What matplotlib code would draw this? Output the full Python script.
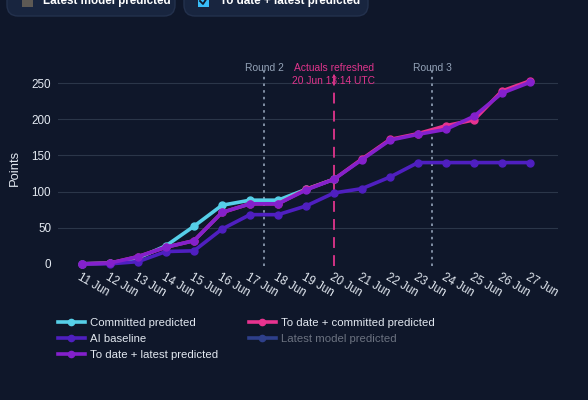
import numpy as np
import matplotlib
matplotlib.use('Agg')
import matplotlib.pyplot as plt
from matplotlib.lines import Line2D
from matplotlib.patches import FancyBboxPatch, Rectangle
from matplotlib.transforms import IdentityTransform

plt.rcParams['font.family'] = ['Liberation Sans', 'DejaVu Sans']

# datos
dates = ['11 Jun', '12 Jun', '13 Jun', '14 Jun', '15 Jun', '16 Jun', '17 Jun', '18 Jun',
         '19 Jun', '20 Jun', '21 Jun', '22 Jun', '23 Jun', '24 Jun', '25 Jun', '26 Jun', '27 Jun']
committed = [0, 1, 8, 25, 52, 81, 88, 88, 103, 117] + [np.nan] * 7
ai_baseline = [0, 0, 3, 17, 18, 48, 68, 68, 80, 98, 104, 120, 140, 140, 140, 140, 140]
todate_latest = [0, 1, 10, 23, 32, 71, 83, 83, 102, 117, 144, 171, 179, 186, 204, 236, 251]
todate_committed = [0, 1, 10, 23, 32, 71, 83, 83, 103, 117, 145, 172, 180, 191, 199, 239, 253]
round_marks = [(6.5, 'Round 2'), (12.5, 'Round 3')]
refresh_idx = 9
refresh_label = 'Actuals refreshed\n20 Jun 13:14 UTC'

BG = '#0f172a'
C_COMMITTED = '#56cfe8'
C_BASELINE = '#4f1fc0'
C_LATEST = '#8420cc'
C_TD_COMMITTED = '#e8338f'
C_HIDDEN = '#2e3f8a'
TXT = '#e2e8f0'

W, H = 588, 400
fig = plt.figure(figsize=(W / 100, H / 100), dpi=100, facecolor=BG)

# ejes en pixeles
left, right, top, bottom = 58, 558, 70, 266
ax = fig.add_axes([left / W, 1 - bottom / H, (right - left) / W, (bottom - top) / H])
ax.set_facecolor(BG)

x = np.arange(len(dates))
lw, ms = 2.6, 5
ax.plot(x, committed, color=C_COMMITTED, lw=lw, marker='o', ms=ms, zorder=3, clip_on=False)
ax.plot(x, todate_committed, color=C_TD_COMMITTED, lw=lw, marker='o', ms=ms, zorder=4, clip_on=False)
ax.plot(x, ai_baseline, color=C_BASELINE, lw=lw, marker='o', ms=ms, zorder=5, clip_on=False)
ax.plot(x, todate_latest, color=C_LATEST, lw=lw, marker='o', ms=ms, zorder=6, clip_on=False)

ax.set_xlim(-0.857, 17.0)
ax.set_ylim(-3, 268)
ax.set_yticks([0, 50, 100, 150, 200, 250])
ax.set_xticks(x)
ax.set_xticklabels(dates, rotation=-30, ha='left', va='top', rotation_mode='anchor')
ax.tick_params(axis='both', length=0, colors=TXT, labelsize=8.4)
ax.tick_params(axis='x', pad=4)
ax.tick_params(axis='y', pad=5)
ax.grid(axis='y', color='#2b3649', lw=0.8)
ax.grid(axis='x', visible=False)
for s in ax.spines.values():
    s.set_visible(False)
# sin linea de rejilla en cero
ax.get_ygridlines()[0].set_visible(False)
ax.set_ylabel('Points', color=TXT, fontsize=9.4)
ax.yaxis.set_label_coords(-0.074, 0.5)

# lineas verticales
for xv, lab in round_marks:
    ax.axvline(xv, color='#94a3b8', lw=1.2, ls=(0, (1.5, 2.5)), zorder=2)
    ax.text(xv, 270.8, lab, color='#94a3b8', fontsize=7.4, ha='center', va='center')
ax.axvline(refresh_idx, color='#e0348c', lw=1.3, ls=(0, (6, 4)), zorder=2)
ax.text(refresh_idx, 261.8, refresh_label, color='#e0348c', fontsize=7.4, ha='center',
        va='center', linespacing=1.4, zorder=7)

# leyenda
handles = [
    Line2D([], [], color=C_COMMITTED, lw=2.6, marker='o', ms=4.5),
    Line2D([], [], color=C_BASELINE, lw=2.6, marker='o', ms=4.5),
    Line2D([], [], color=C_LATEST, lw=2.6, marker='o', ms=4.5),
    Line2D([], [], color=C_TD_COMMITTED, lw=2.6, marker='o', ms=4.5),
    Line2D([], [], color=C_HIDDEN, lw=2.6, marker='o', ms=4.5),
]
labels = ['Committed predicted', 'AI baseline', 'To date + latest predicted',
          'To date + committed predicted', 'Latest model predicted']
leg = fig.legend(handles, labels, loc='upper left', bbox_to_anchor=(58 / W, 1 - 317.5 / H),
                 ncol=2, frameon=False, fontsize=8.2, handlelength=2.35, handletextpad=0.45,
                 labelspacing=0.55, columnspacing=2.7, labelcolor=TXT, borderpad=0,
                 borderaxespad=0)
leg.get_texts()[4].set_color('#6b7280')

# botones de arriba (cortados)
pix = IdentityTransform()
for x0, x1 in [(7, 175), (184, 368)]:
    fig.patches.append(FancyBboxPatch((x0, H - 16), x1 - x0, 40,
                                      boxstyle='round,pad=0,rounding_size=11',
                                      transform=pix, facecolor='#18253f',
                                      edgecolor='#23314d', lw=1.0, zorder=1))
fig.patches.append(Rectangle((22, H - 7), 11, 11, transform=pix, facecolor='#5d5954',
                             edgecolor='none', zorder=2))
fig.patches.append(Rectangle((198, H - 7), 11, 11, transform=pix, facecolor='#38bdf8',
                             edgecolor='none', zorder=2))
fig.lines.append(Line2D([200, 203, 207], [H - 1, H - 4, H + 2], transform=pix,
                        color='#0f172a', lw=1.3, zorder=3))
fig.text(43, H - 4, 'Latest model predicted', transform=pix, color='white',
         fontsize=8.4, fontweight='bold', va='baseline', ha='left')
fig.text(220, H - 4, 'To date + latest predicted', transform=pix, color='white',
         fontsize=8.4, fontweight='bold', va='baseline', ha='left')

fig.savefig('out.png', dpi=100, facecolor=BG)
